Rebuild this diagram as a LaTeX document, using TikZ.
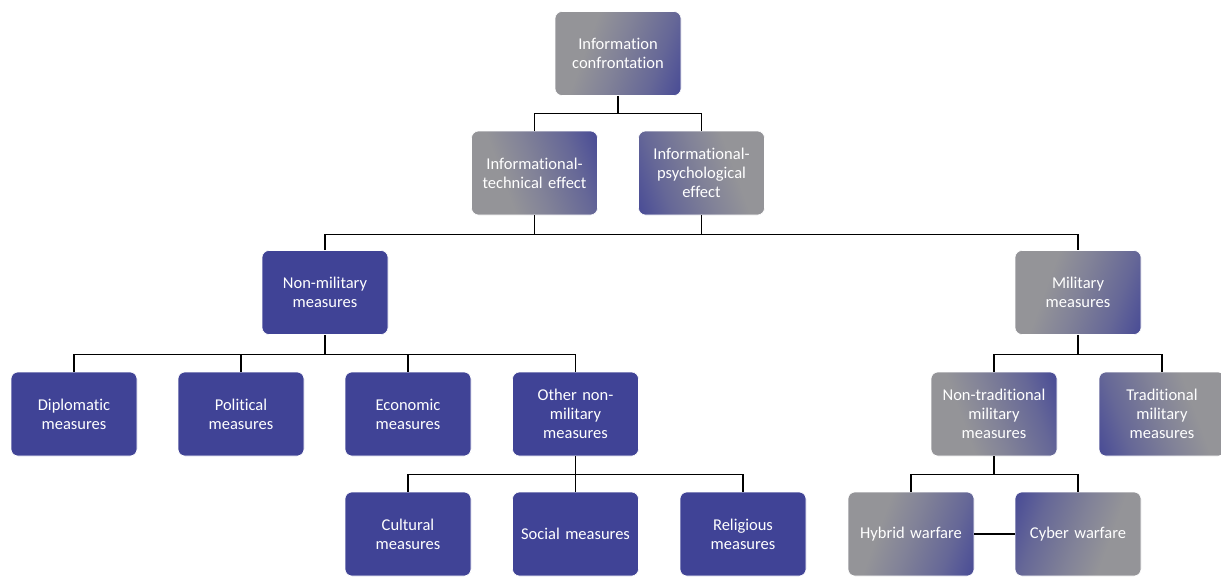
\documentclass[tikz,border=0pt]{standalone}
\usepackage{fontspec}
\setmainfont{Carlito}[Ligatures=NoCommon]
\usetikzlibrary{calc}
\definecolor{dblue}{RGB}{64,67,150}
\definecolor{dgray}{RGB}{148,148,152}
\pgfdeclareverticalshading{gb}{100bp}{color(0bp)=(dblue); color(14bp)=(dblue); color(32bp)=(dgray!45!dblue); color(50bp)=(dgray!78!dblue); color(64bp)=(dgray); color(100bp)=(dgray)}
\tikzset{
  box/.style={rounded corners=7pt, draw=white, line width=0.6pt, minimum width=126pt, minimum height=84pt,
    text width=120pt, align=center, inner sep=0pt, text=white,
    font=\fontsize{16.5}{19}\selectfont},
  solid/.style={box, fill=dblue},
  gTLBR/.style={box, shade, shading=gb, shading angle=70},
  gBLTR/.style={box, shade, shading=gb, shading angle=110},
  gTRBL/.style={box, shade, shading=gb, shading angle=-70},
  gBRTL/.style={box, shade, shading=gb, shading angle=-110},
  conn/.style={draw=black, line width=1.1pt}
}
\begin{document}
\begin{tikzpicture}[x=1pt,y=-1pt]
\useasboundingbox (0,0) rectangle (1221,576);
\node[gTLBR] (conf) at (618,53.5) {Information\\confrontation};
\node[gBLTR] (tech) at (534.5,173) {Informational-\\technical effect};
\node[gTRBL] (psych) at (701.5,173) {Informational-\\psychological\\effect};
\node[solid] (nonmil) at (325,292.5) {Non-military\\measures};
\node[gTLBR] (mil) at (1078,292.5) {Military\\measures};
\node[solid] (dipl) at (74,414) {Diplomatic\\measures};
\node[solid] (pol) at (241,414) {Political\\measures};
\node[solid] (econ) at (408,414) {Economic\\measures};
\node[solid] (other) at (575.5,414) {Other non-\\military\\measures};
\node[solid] (cult) at (408,534) {Cultural\\measures};
\node[solid] (soc) at (575.5,534) {Social measures};
\node[solid] (rel) at (743,534) {Religious\\measures};
\node[gBLTR] (nontrad) at (994,414) {Non-traditional\\military\\measures};
\node[gTRBL] (trad) at (1162,414) {Traditional\\military\\measures};
\node[gTLBR] (hyb) at (911,534) {Hybrid warfare};
\node[gBRTL] (cyb) at (1078,534) {Cyber warfare};

\coordinate (j0) at ($(conf.south)+(0,18)$);
\draw[conn] (conf.south) -- (j0);
\draw[conn] (tech.north) |- (j0) -| (psych.north);

\coordinate (j1) at ($(tech.south)+(0,19)$);
\draw[conn] (tech.south) -- (j1);
\draw[conn] (psych.south) -- (psych.south |- j1);
\draw[conn] (nonmil.north) |- (j1) -- (mil.north |- j1) -- (mil.north);

\coordinate (j2) at ($(nonmil.south)+(0,20)$);
\draw[conn] (nonmil.south) -- (j2);
\draw[conn] (dipl.north) |- (j2) -| (other.north);
\draw[conn] (pol.north) -- (pol.north |- j2);
\draw[conn] (econ.north) -- (econ.north |- j2);

\coordinate (j3) at ($(other.south)+(0,18)$);
\draw[conn] (other.south) -- (j3);
\draw[conn] (cult.north) |- (j3) -| (rel.north);
\draw[conn] (soc.north) -- (j3);

\coordinate (j4) at ($(mil.south)+(0,20)$);
\draw[conn] (mil.south) -- (j4);
\draw[conn] (nontrad.north) |- (j4) -| (trad.north);

\coordinate (j5) at ($(nontrad.south)+(0,18)$);
\draw[conn] (nontrad.south) -- (j5);
\draw[conn] (hyb.north) |- (j5) -| (cyb.north);

\draw[conn] (hyb.east) -- (cyb.west);
\end{tikzpicture}
\end{document}
